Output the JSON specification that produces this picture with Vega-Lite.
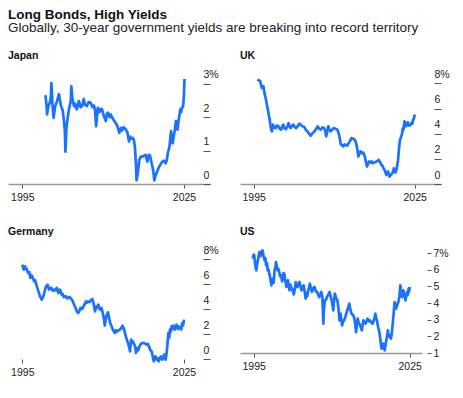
{
  "$schema": "https://vega.github.io/schema/vega-lite/v6.json",
  "background": "white",
  "padding": {"left": 8, "top": 7, "right": 0, "bottom": 0},
  "title": {
    "text": "Long Bonds, High Yields",
    "subtitle": "Globally, 30-year government yields are breaking into record territory",
    "anchor": "start",
    "frame": "group",
    "font": "Liberation Sans",
    "fontSize": 13.5,
    "fontWeight": "bold",
    "color": "#111111",
    "subtitleFont": "Liberation Sans",
    "subtitleFontSize": 13.5,
    "subtitleColor": "#222222",
    "subtitlePadding": 0,
    "offset": 16
  },
  "datasets": {
    "japan": [
      {"year": 1999.3, "value": 2.66}, {"year": 1999.5, "value": 2.35}, {"year": 1999.6, "value": 2.08}, {"year": 1999.8, "value": 2.3},
      {"year": 2000.1, "value": 2.43}, {"year": 2000.3, "value": 2.6}, {"year": 2000.4, "value": 3.02}, {"year": 2000.6, "value": 2.4},
      {"year": 2000.8, "value": 1.98}, {"year": 2001.0, "value": 2.2}, {"year": 2001.1, "value": 2.33}, {"year": 2001.4, "value": 2.45},
      {"year": 2001.8, "value": 2.69}, {"year": 2002.0, "value": 2.5}, {"year": 2002.2, "value": 2.33}, {"year": 2002.5, "value": 2.2},
      {"year": 2002.7, "value": 1.93}, {"year": 2002.9, "value": 1.6}, {"year": 2003.0, "value": 0.97}, {"year": 2003.2, "value": 1.7},
      {"year": 2003.5, "value": 2.08}, {"year": 2003.7, "value": 2.25}, {"year": 2003.8, "value": 2.33}, {"year": 2004.0, "value": 2.5},
      {"year": 2004.1, "value": 2.92}, {"year": 2004.3, "value": 2.55}, {"year": 2004.6, "value": 2.33}, {"year": 2004.8, "value": 2.4},
      {"year": 2005.1, "value": 2.23}, {"year": 2005.3, "value": 2.35}, {"year": 2005.5, "value": 2.48}, {"year": 2005.8, "value": 2.3},
      {"year": 2006.1, "value": 2.33}, {"year": 2006.4, "value": 2.54}, {"year": 2006.6, "value": 2.38}, {"year": 2007.0, "value": 2.33},
      {"year": 2007.3, "value": 2.45}, {"year": 2007.7, "value": 2.43}, {"year": 2008.0, "value": 2.3}, {"year": 2008.3, "value": 2.35},
      {"year": 2008.5, "value": 2.2}, {"year": 2008.7, "value": 1.73}, {"year": 2009.0, "value": 2.28}, {"year": 2009.3, "value": 2.15},
      {"year": 2009.6, "value": 2.25}, {"year": 2009.8, "value": 2.23}, {"year": 2010.1, "value": 2.05}, {"year": 2010.5, "value": 1.88},
      {"year": 2010.7, "value": 2.1}, {"year": 2010.9, "value": 2.13}, {"year": 2011.2, "value": 2.0}, {"year": 2011.4, "value": 2.08},
      {"year": 2011.7, "value": 1.98}, {"year": 2012.0, "value": 1.9}, {"year": 2012.3, "value": 1.83}, {"year": 2012.6, "value": 1.75},
      {"year": 2013.0, "value": 1.53}, {"year": 2013.3, "value": 1.68}, {"year": 2013.5, "value": 1.6}, {"year": 2013.8, "value": 1.7},
      {"year": 2014.2, "value": 1.63}, {"year": 2014.5, "value": 1.55}, {"year": 2014.8, "value": 1.27}, {"year": 2015.0, "value": 1.42},
      {"year": 2015.2, "value": 1.35}, {"year": 2015.5, "value": 1.38}, {"year": 2015.7, "value": 1.32}, {"year": 2015.9, "value": 1.1},
      {"year": 2016.1, "value": 0.55}, {"year": 2016.2, "value": 0.11}, {"year": 2016.4, "value": 0.3}, {"year": 2016.6, "value": 0.55},
      {"year": 2016.7, "value": 0.72}, {"year": 2017.0, "value": 0.82}, {"year": 2017.3, "value": 0.82}, {"year": 2017.6, "value": 0.85},
      {"year": 2017.9, "value": 0.87}, {"year": 2018.2, "value": 0.67}, {"year": 2018.5, "value": 0.87}, {"year": 2018.7, "value": 0.85},
      {"year": 2019.0, "value": 0.62}, {"year": 2019.3, "value": 0.4}, {"year": 2019.5, "value": 0.11}, {"year": 2019.7, "value": 0.25},
      {"year": 2020.0, "value": 0.36}, {"year": 2020.2, "value": 0.45}, {"year": 2020.4, "value": 0.52}, {"year": 2020.7, "value": 0.6},
      {"year": 2021.0, "value": 0.67}, {"year": 2021.3, "value": 0.7}, {"year": 2021.6, "value": 0.62}, {"year": 2021.8, "value": 0.7},
      {"year": 2022.0, "value": 0.92}, {"year": 2022.3, "value": 1.1}, {"year": 2022.6, "value": 1.58}, {"year": 2022.75, "value": 1.25},
      {"year": 2022.9, "value": 1.22}, {"year": 2023.1, "value": 1.45}, {"year": 2023.3, "value": 1.6}, {"year": 2023.5, "value": 1.88},
      {"year": 2023.65, "value": 1.7}, {"year": 2023.8, "value": 1.63}, {"year": 2024.0, "value": 1.9}, {"year": 2024.2, "value": 2.1},
      {"year": 2024.3, "value": 2.23}, {"year": 2024.5, "value": 2.15}, {"year": 2024.6, "value": 2.28}, {"year": 2024.8, "value": 2.3},
      {"year": 2024.9, "value": 2.43}, {"year": 2025.0, "value": 2.7}, {"year": 2025.1, "value": 3.14}
    ],
    "uk": [
      {"year": 1995.7, "value": 8.32}, {"year": 1995.9, "value": 8.25}, {"year": 1996.2, "value": 8.19}, {"year": 1996.4, "value": 7.85},
      {"year": 1996.5, "value": 7.65}, {"year": 1996.8, "value": 7.79}, {"year": 1997.0, "value": 7.25}, {"year": 1997.2, "value": 6.9},
      {"year": 1997.4, "value": 6.45}, {"year": 1997.6, "value": 6.0}, {"year": 1997.8, "value": 5.52}, {"year": 1998.0, "value": 5.1},
      {"year": 1998.1, "value": 4.72}, {"year": 1998.3, "value": 4.3}, {"year": 1998.4, "value": 4.19}, {"year": 1998.6, "value": 4.72},
      {"year": 1998.8, "value": 4.5}, {"year": 1999.1, "value": 4.45}, {"year": 1999.3, "value": 4.65}, {"year": 1999.6, "value": 4.59},
      {"year": 1999.8, "value": 4.4}, {"year": 2000.1, "value": 4.32}, {"year": 2000.3, "value": 4.6}, {"year": 2000.5, "value": 4.72},
      {"year": 2000.7, "value": 4.45}, {"year": 2001.0, "value": 4.37}, {"year": 2001.3, "value": 4.6}, {"year": 2001.5, "value": 4.85},
      {"year": 2001.7, "value": 4.55}, {"year": 2001.9, "value": 4.45}, {"year": 2002.2, "value": 4.65}, {"year": 2002.4, "value": 4.72},
      {"year": 2002.7, "value": 4.5}, {"year": 2002.9, "value": 4.45}, {"year": 2003.2, "value": 4.6}, {"year": 2003.5, "value": 4.8},
      {"year": 2003.8, "value": 4.7}, {"year": 2004.1, "value": 4.59}, {"year": 2004.4, "value": 4.55}, {"year": 2004.7, "value": 4.32},
      {"year": 2005.0, "value": 4.2}, {"year": 2005.3, "value": 4.0}, {"year": 2005.6, "value": 3.84}, {"year": 2005.9, "value": 4.0},
      {"year": 2006.3, "value": 4.19}, {"year": 2006.6, "value": 4.35}, {"year": 2006.9, "value": 4.59}, {"year": 2007.2, "value": 4.4},
      {"year": 2007.5, "value": 4.32}, {"year": 2007.8, "value": 4.5}, {"year": 2008.1, "value": 4.45}, {"year": 2008.3, "value": 4.3},
      {"year": 2008.5, "value": 3.79}, {"year": 2008.7, "value": 4.2}, {"year": 2008.9, "value": 4.59}, {"year": 2009.1, "value": 4.35},
      {"year": 2009.3, "value": 4.19}, {"year": 2009.6, "value": 4.3}, {"year": 2009.9, "value": 4.45}, {"year": 2010.2, "value": 4.4},
      {"year": 2010.6, "value": 4.32}, {"year": 2010.9, "value": 3.92}, {"year": 2011.1, "value": 3.5}, {"year": 2011.2, "value": 3.2},
      {"year": 2011.5, "value": 3.05}, {"year": 2011.7, "value": 2.99}, {"year": 2011.9, "value": 3.15}, {"year": 2012.1, "value": 3.12},
      {"year": 2012.4, "value": 3.05}, {"year": 2012.7, "value": 3.25}, {"year": 2013.0, "value": 3.45}, {"year": 2013.2, "value": 3.65},
      {"year": 2013.5, "value": 3.6}, {"year": 2013.7, "value": 3.57}, {"year": 2013.9, "value": 3.45}, {"year": 2014.1, "value": 3.25},
      {"year": 2014.3, "value": 2.8}, {"year": 2014.5, "value": 2.19}, {"year": 2014.7, "value": 2.4}, {"year": 2014.9, "value": 2.59},
      {"year": 2015.2, "value": 2.45}, {"year": 2015.4, "value": 2.5}, {"year": 2015.7, "value": 2.19}, {"year": 2015.9, "value": 1.8},
      {"year": 2016.1, "value": 1.39}, {"year": 2016.3, "value": 1.6}, {"year": 2016.5, "value": 1.79}, {"year": 2016.8, "value": 1.7},
      {"year": 2017.0, "value": 1.79}, {"year": 2017.2, "value": 1.65}, {"year": 2017.4, "value": 1.71}, {"year": 2017.7, "value": 1.75},
      {"year": 2017.9, "value": 1.79}, {"year": 2018.1, "value": 1.85}, {"year": 2018.3, "value": 1.92}, {"year": 2018.6, "value": 1.7},
      {"year": 2018.8, "value": 1.52}, {"year": 2019.0, "value": 1.45}, {"year": 2019.2, "value": 1.25}, {"year": 2019.5, "value": 1.0},
      {"year": 2019.7, "value": 0.72}, {"year": 2019.85, "value": 0.85}, {"year": 2020.0, "value": 0.99}, {"year": 2020.2, "value": 0.75},
      {"year": 2020.3, "value": 0.59}, {"year": 2020.5, "value": 0.7}, {"year": 2020.8, "value": 0.85}, {"year": 2021.0, "value": 1.0},
      {"year": 2021.1, "value": 1.25}, {"year": 2021.3, "value": 1.05}, {"year": 2021.4, "value": 0.91}, {"year": 2021.6, "value": 1.1},
      {"year": 2021.7, "value": 1.39}, {"year": 2021.9, "value": 1.9}, {"year": 2022.0, "value": 2.45}, {"year": 2022.2, "value": 3.39},
      {"year": 2022.4, "value": 3.7}, {"year": 2022.5, "value": 3.79}, {"year": 2022.6, "value": 3.92}, {"year": 2022.7, "value": 4.2},
      {"year": 2022.8, "value": 4.45}, {"year": 2022.9, "value": 4.3}, {"year": 2023.1, "value": 4.99}, {"year": 2023.25, "value": 4.7},
      {"year": 2023.4, "value": 4.59}, {"year": 2023.55, "value": 4.75}, {"year": 2023.7, "value": 4.91}, {"year": 2023.85, "value": 4.7},
      {"year": 2024.0, "value": 4.64}, {"year": 2024.2, "value": 4.7}, {"year": 2024.4, "value": 4.85}, {"year": 2024.55, "value": 4.8},
      {"year": 2024.7, "value": 5.12}, {"year": 2024.85, "value": 5.2}, {"year": 2025.0, "value": 5.52}
    ],
    "germany": [
      {"year": 1995.0, "value": 7.55}, {"year": 1995.15, "value": 7.3}, {"year": 1995.3, "value": 7.15}, {"year": 1995.5, "value": 7.41},
      {"year": 1995.65, "value": 7.25}, {"year": 1995.8, "value": 7.2}, {"year": 1996.1, "value": 6.88}, {"year": 1996.3, "value": 6.95},
      {"year": 1996.5, "value": 6.48}, {"year": 1996.7, "value": 6.7}, {"year": 1996.9, "value": 6.56}, {"year": 1997.2, "value": 6.21},
      {"year": 1997.4, "value": 6.3}, {"year": 1997.7, "value": 5.81}, {"year": 1998.0, "value": 5.41}, {"year": 1998.3, "value": 5.01},
      {"year": 1998.6, "value": 4.75}, {"year": 1998.8, "value": 4.9}, {"year": 1999.0, "value": 5.15}, {"year": 1999.2, "value": 5.5},
      {"year": 1999.4, "value": 5.81}, {"year": 1999.7, "value": 5.95}, {"year": 1999.85, "value": 5.7}, {"year": 2000.0, "value": 5.55},
      {"year": 2000.2, "value": 5.7}, {"year": 2000.4, "value": 5.68}, {"year": 2000.7, "value": 5.45}, {"year": 2000.9, "value": 5.55},
      {"year": 2001.2, "value": 5.5}, {"year": 2001.4, "value": 5.68}, {"year": 2001.7, "value": 5.28}, {"year": 2002.0, "value": 5.55},
      {"year": 2002.3, "value": 5.15}, {"year": 2002.5, "value": 5.2}, {"year": 2002.7, "value": 4.96}, {"year": 2003.1, "value": 5.01},
      {"year": 2003.3, "value": 4.85}, {"year": 2003.5, "value": 4.88}, {"year": 2003.8, "value": 4.96}, {"year": 2004.2, "value": 4.75},
      {"year": 2004.4, "value": 4.6}, {"year": 2004.6, "value": 4.35}, {"year": 2004.9, "value": 4.1}, {"year": 2005.1, "value": 3.81},
      {"year": 2005.4, "value": 3.68}, {"year": 2005.6, "value": 3.85}, {"year": 2005.8, "value": 4.08}, {"year": 2006.1, "value": 4.0},
      {"year": 2006.3, "value": 4.16}, {"year": 2006.6, "value": 4.4}, {"year": 2006.8, "value": 4.61}, {"year": 2007.0, "value": 4.5},
      {"year": 2007.2, "value": 4.61}, {"year": 2007.5, "value": 4.55}, {"year": 2007.7, "value": 4.69}, {"year": 2008.0, "value": 4.8},
      {"year": 2008.2, "value": 4.5}, {"year": 2008.5, "value": 3.81}, {"year": 2008.65, "value": 4.2}, {"year": 2008.8, "value": 4.08},
      {"year": 2009.1, "value": 4.35}, {"year": 2009.4, "value": 3.95}, {"year": 2009.7, "value": 4.08}, {"year": 2010.0, "value": 3.55},
      {"year": 2010.2, "value": 3.1}, {"year": 2010.3, "value": 2.67}, {"year": 2010.45, "value": 3.1}, {"year": 2010.6, "value": 3.41},
      {"year": 2010.9, "value": 3.73}, {"year": 2011.1, "value": 3.3}, {"year": 2011.3, "value": 2.88}, {"year": 2011.6, "value": 2.6},
      {"year": 2011.8, "value": 2.35}, {"year": 2012.0, "value": 2.2}, {"year": 2012.2, "value": 2.08}, {"year": 2012.4, "value": 2.3},
      {"year": 2012.6, "value": 2.21}, {"year": 2012.9, "value": 2.3}, {"year": 2013.1, "value": 2.35}, {"year": 2013.4, "value": 2.5},
      {"year": 2013.6, "value": 2.67}, {"year": 2013.9, "value": 2.35}, {"year": 2014.2, "value": 1.81}, {"year": 2014.45, "value": 1.5},
      {"year": 2014.7, "value": 1.15}, {"year": 2014.85, "value": 0.9}, {"year": 2015.0, "value": 0.61}, {"year": 2015.2, "value": 1.55},
      {"year": 2015.35, "value": 1.3}, {"year": 2015.5, "value": 1.41}, {"year": 2015.8, "value": 1.15}, {"year": 2016.0, "value": 0.9},
      {"year": 2016.1, "value": 0.48}, {"year": 2016.3, "value": 0.88}, {"year": 2016.5, "value": 0.7}, {"year": 2016.8, "value": 1.07},
      {"year": 2017.0, "value": 1.2}, {"year": 2017.3, "value": 1.28}, {"year": 2017.5, "value": 1.3}, {"year": 2017.8, "value": 1.23},
      {"year": 2018.1, "value": 1.15}, {"year": 2018.3, "value": 1.2}, {"year": 2018.5, "value": 1.01}, {"year": 2018.8, "value": 0.69},
      {"year": 2019.0, "value": 0.6}, {"year": 2019.2, "value": 0.21}, {"year": 2019.4, "value": -0.19}, {"year": 2019.55, "value": 0.0},
      {"year": 2019.7, "value": 0.21}, {"year": 2019.85, "value": 0.1}, {"year": 2020.0, "value": -0.05}, {"year": 2020.15, "value": 0.05},
      {"year": 2020.3, "value": -0.19}, {"year": 2020.5, "value": 0.0}, {"year": 2020.7, "value": 0.21}, {"year": 2020.85, "value": 0.1},
      {"year": 2021.0, "value": -0.05}, {"year": 2021.15, "value": 0.15}, {"year": 2021.3, "value": 0.35}, {"year": 2021.45, "value": 0.1},
      {"year": 2021.6, "value": -0.05}, {"year": 2021.75, "value": 0.4}, {"year": 2021.9, "value": 1.01}, {"year": 2022.1, "value": 2.08},
      {"year": 2022.25, "value": 1.7}, {"year": 2022.4, "value": 2.35}, {"year": 2022.55, "value": 2.2}, {"year": 2022.7, "value": 2.61},
      {"year": 2022.85, "value": 2.4}, {"year": 2023.0, "value": 2.67}, {"year": 2023.15, "value": 2.45}, {"year": 2023.3, "value": 2.35},
      {"year": 2023.45, "value": 2.6}, {"year": 2023.6, "value": 2.75}, {"year": 2023.75, "value": 2.5}, {"year": 2023.9, "value": 2.4},
      {"year": 2024.05, "value": 2.6}, {"year": 2024.2, "value": 2.56}, {"year": 2024.35, "value": 2.5}, {"year": 2024.5, "value": 2.35},
      {"year": 2024.7, "value": 2.88}, {"year": 2024.85, "value": 2.7}, {"year": 2025.0, "value": 3.15}
    ],
    "us": [
      {"year": 1994.8, "value": 6.66}, {"year": 1995.0, "value": 6.9}, {"year": 1995.1, "value": 6.86}, {"year": 1995.3, "value": 6.3},
      {"year": 1995.5, "value": 5.96}, {"year": 1995.65, "value": 6.3}, {"year": 1995.8, "value": 6.56}, {"year": 1996.0, "value": 6.9},
      {"year": 1996.1, "value": 7.06}, {"year": 1996.25, "value": 6.8}, {"year": 1996.4, "value": 6.86}, {"year": 1996.55, "value": 7.1},
      {"year": 1996.7, "value": 7.16}, {"year": 1996.9, "value": 6.8}, {"year": 1997.1, "value": 6.56}, {"year": 1997.25, "value": 6.7},
      {"year": 1997.4, "value": 6.26}, {"year": 1997.55, "value": 6.4}, {"year": 1997.7, "value": 5.96}, {"year": 1997.85, "value": 6.0},
      {"year": 1998.0, "value": 5.76}, {"year": 1998.2, "value": 5.5}, {"year": 1998.4, "value": 5.06}, {"year": 1998.55, "value": 5.3},
      {"year": 1998.7, "value": 5.46}, {"year": 1998.85, "value": 5.2}, {"year": 1999.0, "value": 5.96}, {"year": 1999.15, "value": 6.1},
      {"year": 1999.3, "value": 6.46}, {"year": 1999.45, "value": 6.2}, {"year": 1999.6, "value": 5.96}, {"year": 1999.75, "value": 6.05},
      {"year": 1999.9, "value": 5.86}, {"year": 2000.1, "value": 5.6}, {"year": 2000.3, "value": 5.66}, {"year": 2000.45, "value": 5.3},
      {"year": 2000.6, "value": 5.46}, {"year": 2000.75, "value": 5.8}, {"year": 2000.9, "value": 5.76}, {"year": 2001.1, "value": 5.3},
      {"year": 2001.3, "value": 4.96}, {"year": 2001.45, "value": 5.2}, {"year": 2001.6, "value": 5.36}, {"year": 2001.75, "value": 5.0},
      {"year": 2001.9, "value": 4.76}, {"year": 2002.05, "value": 5.1}, {"year": 2002.2, "value": 4.96}, {"year": 2002.45, "value": 4.8},
      {"year": 2002.7, "value": 4.52}, {"year": 2002.9, "value": 4.8}, {"year": 2003.1, "value": 5.26}, {"year": 2003.25, "value": 5.0},
      {"year": 2003.4, "value": 4.96}, {"year": 2003.6, "value": 5.1}, {"year": 2003.8, "value": 5.26}, {"year": 2004.0, "value": 5.0},
      {"year": 2004.2, "value": 4.76}, {"year": 2004.4, "value": 4.9}, {"year": 2004.6, "value": 5.06}, {"year": 2004.8, "value": 4.7},
      {"year": 2005.0, "value": 4.26}, {"year": 2005.15, "value": 4.6}, {"year": 2005.3, "value": 4.4}, {"year": 2005.5, "value": 4.76},
      {"year": 2005.65, "value": 4.9}, {"year": 2005.8, "value": 5.16}, {"year": 2006.0, "value": 4.9}, {"year": 2006.2, "value": 4.66},
      {"year": 2006.45, "value": 4.9}, {"year": 2006.7, "value": 4.96}, {"year": 2006.95, "value": 4.7}, {"year": 2007.2, "value": 4.66},
      {"year": 2007.4, "value": 4.5}, {"year": 2007.6, "value": 4.36}, {"year": 2007.8, "value": 4.5}, {"year": 2008.0, "value": 4.66},
      {"year": 2008.2, "value": 4.4}, {"year": 2008.3, "value": 3.6}, {"year": 2008.4, "value": 2.76}, {"year": 2008.5, "value": 3.6},
      {"year": 2008.7, "value": 4.16}, {"year": 2008.9, "value": 4.2}, {"year": 2009.1, "value": 4.36}, {"year": 2009.35, "value": 4.5},
      {"year": 2009.6, "value": 4.66}, {"year": 2009.8, "value": 4.4}, {"year": 2010.0, "value": 4.16}, {"year": 2010.15, "value": 3.9},
      {"year": 2010.3, "value": 3.56}, {"year": 2010.45, "value": 4.1}, {"year": 2010.6, "value": 4.56}, {"year": 2010.85, "value": 4.3},
      {"year": 2011.1, "value": 4.16}, {"year": 2011.3, "value": 3.7}, {"year": 2011.5, "value": 2.96}, {"year": 2011.6, "value": 3.3},
      {"year": 2011.7, "value": 3.36}, {"year": 2011.85, "value": 3.0}, {"year": 2012.0, "value": 2.66}, {"year": 2012.2, "value": 2.9},
      {"year": 2012.4, "value": 2.96}, {"year": 2012.65, "value": 3.2}, {"year": 2012.9, "value": 3.46}, {"year": 2013.15, "value": 3.7},
      {"year": 2013.4, "value": 3.96}, {"year": 2013.6, "value": 3.6}, {"year": 2013.8, "value": 3.36}, {"year": 2014.05, "value": 3.3},
      {"year": 2014.3, "value": 3.16}, {"year": 2014.5, "value": 2.8}, {"year": 2014.7, "value": 2.26}, {"year": 2014.85, "value": 2.7},
      {"year": 2015.0, "value": 3.06}, {"year": 2015.15, "value": 2.9}, {"year": 2015.3, "value": 2.76}, {"year": 2015.55, "value": 2.6},
      {"year": 2015.8, "value": 2.36}, {"year": 2015.95, "value": 2.7}, {"year": 2016.1, "value": 2.96}, {"year": 2016.3, "value": 2.8},
      {"year": 2016.5, "value": 2.76}, {"year": 2016.7, "value": 2.9}, {"year": 2016.9, "value": 3.06}, {"year": 2017.15, "value": 2.9},
      {"year": 2017.4, "value": 2.96}, {"year": 2017.65, "value": 2.8}, {"year": 2017.9, "value": 2.76}, {"year": 2018.15, "value": 3.0},
      {"year": 2018.4, "value": 3.36}, {"year": 2018.55, "value": 3.1}, {"year": 2018.7, "value": 2.96}, {"year": 2018.85, "value": 2.7},
      {"year": 2019.0, "value": 2.46}, {"year": 2019.15, "value": 2.3}, {"year": 2019.3, "value": 1.96}, {"year": 2019.45, "value": 1.6},
      {"year": 2019.6, "value": 1.26}, {"year": 2019.75, "value": 1.4}, {"year": 2019.9, "value": 1.56}, {"year": 2020.05, "value": 1.3},
      {"year": 2020.2, "value": 1.16}, {"year": 2020.35, "value": 1.5}, {"year": 2020.5, "value": 1.76}, {"year": 2020.65, "value": 2.0},
      {"year": 2020.8, "value": 2.36}, {"year": 2020.95, "value": 2.1}, {"year": 2021.1, "value": 1.96}, {"year": 2021.25, "value": 2.0},
      {"year": 2021.4, "value": 1.86}, {"year": 2021.6, "value": 2.3}, {"year": 2021.8, "value": 2.96}, {"year": 2021.95, "value": 3.5},
      {"year": 2022.1, "value": 4.06}, {"year": 2022.25, "value": 3.8}, {"year": 2022.4, "value": 3.66}, {"year": 2022.65, "value": 3.9},
      {"year": 2022.9, "value": 4.16}, {"year": 2023.05, "value": 4.5}, {"year": 2023.2, "value": 5.06}, {"year": 2023.35, "value": 4.7},
      {"year": 2023.5, "value": 4.36}, {"year": 2023.65, "value": 4.6}, {"year": 2023.8, "value": 4.76}, {"year": 2024.0, "value": 4.4},
      {"year": 2024.2, "value": 4.16}, {"year": 2024.35, "value": 4.4}, {"year": 2024.5, "value": 4.66}, {"year": 2024.65, "value": 4.5},
      {"year": 2024.8, "value": 4.86}, {"year": 2024.9, "value": 4.7}, {"year": 2025.0, "value": 4.96}
    ]
  },
  "vconcat": [
    {
      "spacing": 21,
      "center": false,
      "hconcat": [
        {
          "title": {"text": "Japan"},
          "width": 202,
          "height": 111,
          "data": {"name": "japan"},
          "mark": {"type": "line", "color": "#1a72ff", "strokeWidth": 2.7, "strokeJoin": "round"},
          "encoding": {
            "x": {"field": "year", "type": "quantitative", "scale": {"domain": [1992.35, 2029.83], "nice": false, "zero": false},
                  "axis": {"values": [1995, 2025], "format": "d", "domain": true, "domainColor": "#999999", "domainWidth": 1.5}},
            "y": {"field": "value", "type": "quantitative", "scale": {"domain": [0, 3.32], "nice": false},
                  "axis": {"orient": "right", "values": [0, 1, 2, 3], "labelExpr": "datum.value == 3 ? '3%' : datum.label",
                           "offset": -7, "tickSize": 7, "labelPadding": -7, "labelAlign": "left", "labelBaseline": "alphabetic", "labelOffset": -6}}
          }
        },
        {
          "title": {"text": "UK"},
          "width": 201,
          "height": 111,
          "data": {"name": "uk"},
          "mark": {"type": "line", "color": "#1a72ff", "strokeWidth": 2.7, "strokeJoin": "round"},
          "encoding": {
            "x": {"field": "year", "type": "quantitative", "scale": {"domain": [1992.45, 2029.9], "nice": false, "zero": false},
                  "axis": {"values": [1995, 2025], "format": "d", "domain": true, "domainColor": "#999999", "domainWidth": 1.5}},
            "y": {"field": "value", "type": "quantitative", "scale": {"domain": [0, 8.83], "nice": false},
                  "axis": {"orient": "right", "values": [0, 2, 4, 6, 8], "labelExpr": "datum.value == 8 ? '8%' : datum.label",
                           "offset": -7, "tickSize": 7, "labelPadding": -7, "labelAlign": "left", "labelBaseline": "alphabetic", "labelOffset": -6}}
          }
        }
      ]
    },
    {
      "spacing": 21,
      "center": false,
      "hconcat": [
        {
          "title": {"text": "Germany"},
          "width": 202,
          "height": 111,
          "data": {"name": "germany"},
          "mark": {"type": "line", "color": "#1a72ff", "strokeWidth": 2.7, "strokeJoin": "round"},
          "encoding": {
            "x": {"field": "year", "type": "quantitative", "scale": {"domain": [1992.35, 2029.83], "nice": false, "zero": false},
                  "axis": {"values": [1995, 2025], "format": "d", "domain": false}},
            "y": {"field": "value", "type": "quantitative", "scale": {"domain": [0, 8.88], "nice": false},
                  "axis": {"orient": "right", "values": [0, 2, 4, 6, 8], "labelExpr": "datum.value == 8 ? '8%' : datum.label",
                           "offset": -7, "tickSize": 7, "labelPadding": -7, "labelAlign": "left", "labelBaseline": "alphabetic", "labelOffset": -6}}
          }
        },
        {
          "title": {"text": "US", "offset": 11},
          "width": 182,
          "height": 111,
          "data": {"name": "us"},
          "mark": {"type": "line", "color": "#1a72ff", "strokeWidth": 2.7, "strokeJoin": "round"},
          "encoding": {
            "x": {"field": "year", "type": "quantitative", "scale": {"domain": [1992.37, 2027.37], "nice": false, "zero": false},
                  "axis": {"values": [1995, 2025], "format": "d", "offset": -6, "domain": true, "domainColor": "#999999", "domainWidth": 1.5}},
            "y": {"field": "value", "type": "quantitative", "scale": {"domain": [0.64, 7.3], "nice": false, "zero": false},
                  "axis": {"orient": "right", "values": [1, 2, 3, 4, 5, 6, 7], "labelExpr": "datum.value == 7 ? '7%' : datum.label",
                           "offset": 5, "tickSize": 4, "labelPadding": 2, "labelAlign": "left", "labelBaseline": "middle"}}
          }
        }
      ]
    }
  ],
  "spacing": 23,
  "config": {
    "view": {"stroke": null},
    "title": {"anchor": "start", "font": "Liberation Sans", "fontSize": 10.5, "fontWeight": "bold", "color": "#111111", "offset": 8},
    "axis": {
      "title": null,
      "grid": false,
      "labelFont": "Liberation Sans",
      "labelFontSize": 10.5,
      "labelColor": "#222222",
      "labelFlush": false,
      "labelOverlap": false,
      "labelBound": false,
      "domain": false,
      "tickColor": "#555555",
      "tickWidth": 1
    },
    "axisX": {"tickSize": 4, "labelPadding": 4.5}
  }
}
